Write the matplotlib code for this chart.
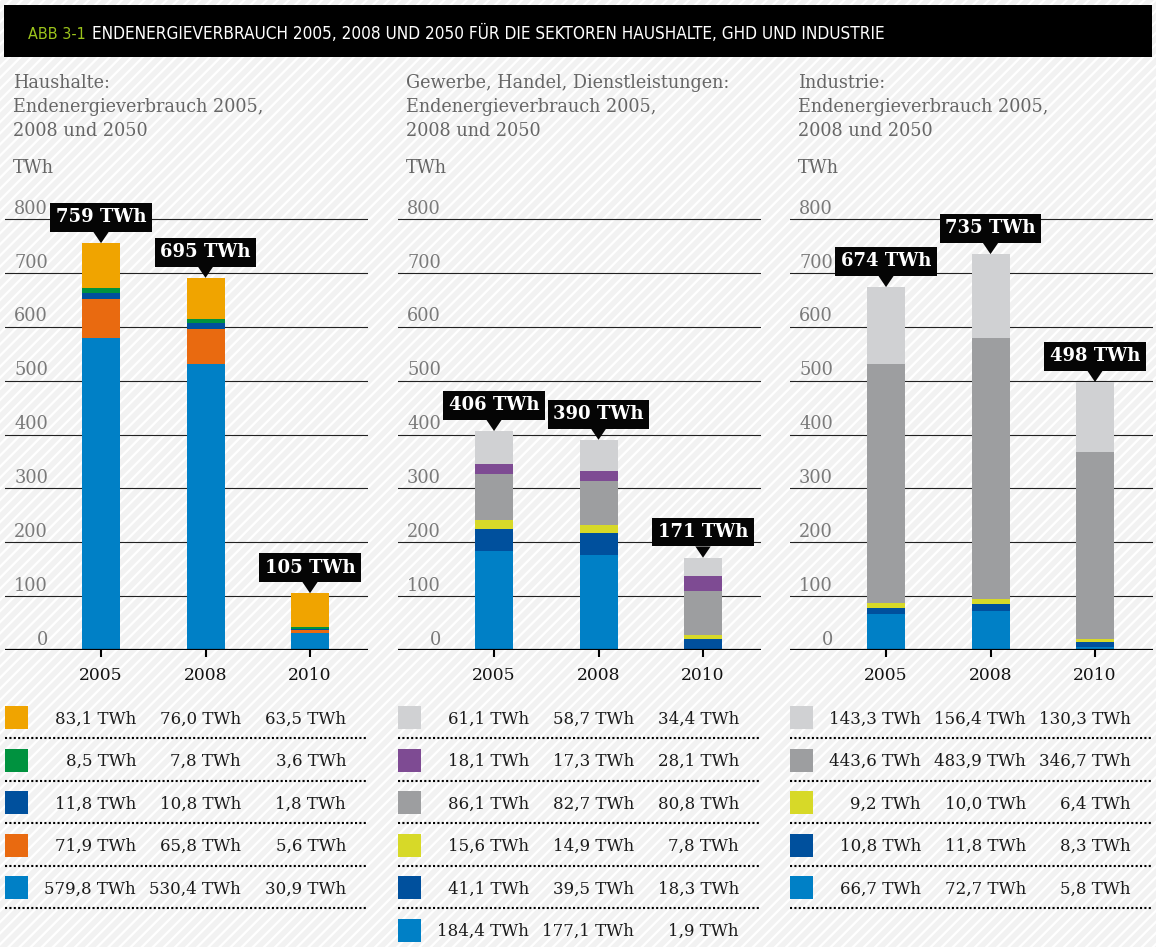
import matplotlib
matplotlib.use("Agg")
import matplotlib.pyplot as plt
from matplotlib.patches import Rectangle
from matplotlib.lines import Line2D

# ---------------- data ----------------
years = ["2005", "2008", "2010"]

# Haushalte (bottom -> top)
hh_lightblue = [579.8, 530.4, 30.9]
hh_orange = [71.9, 65.8, 5.6]
hh_darkblue = [11.8, 10.8, 1.8]
hh_green = [8.5, 7.8, 3.6]
hh_amber = [83.1, 76.0, 63.5]
hh_totals = [759, 695, 105]

# Gewerbe, Handel, Dienstleistungen (bottom -> top)
ghd_lightblue = [184.4, 177.1, 1.9]
ghd_darkblue = [41.1, 39.5, 18.3]
ghd_yellow = [15.6, 14.9, 7.8]
ghd_gray = [86.1, 82.7, 80.8]
ghd_purple = [18.1, 17.3, 28.1]
ghd_lightgray = [61.1, 58.7, 34.4]
ghd_totals = [406, 390, 171]

# Industrie (bottom -> top)
ind_lightblue = [66.7, 72.7, 5.8]
ind_darkblue = [10.8, 11.8, 8.3]
ind_yellow = [9.2, 10.0, 6.4]
ind_gray = [443.6, 483.9, 346.7]
ind_lightgray = [143.3, 156.4, 130.3]
ind_totals = [674, 735, 498]

yticks = [0, 100, 200, 300, 400, 500, 600, 700, 800]

titles = [
    ["Haushalte:", "Endenergieverbrauch 2005,", "2008 und 2050"],
    ["Gewerbe, Handel, Dienstleistungen:", "Endenergieverbrauch 2005,", "2008 und 2050"],
    ["Industrie:", "Endenergieverbrauch 2005,", "2008 und 2050"],
]

C_LBLUE = "#0080c6"
C_DBLUE = "#00509d"
C_ORANGE = "#e96a10"
C_GREEN = "#00923f"
C_AMBER = "#f0a400"
C_YELLOW = "#d7d928"
C_GRAY = "#9d9ea0"
C_PURPLE = "#7e4b93"
C_LGRAY = "#d0d1d3"

panels = [
    dict(series=[hh_lightblue, hh_orange, hh_darkblue, hh_green, hh_amber],
         colors=[C_LBLUE, C_ORANGE, C_DBLUE, C_GREEN, C_AMBER], totals=hh_totals),
    dict(series=[ghd_lightblue, ghd_darkblue, ghd_yellow, ghd_gray, ghd_purple, ghd_lightgray],
         colors=[C_LBLUE, C_DBLUE, C_YELLOW, C_GRAY, C_PURPLE, C_LGRAY], totals=ghd_totals),
    dict(series=[ind_lightblue, ind_darkblue, ind_yellow, ind_gray, ind_lightgray],
         colors=[C_LBLUE, C_DBLUE, C_YELLOW, C_GRAY, C_LGRAY], totals=ind_totals),
]

# ---------------- layout ----------------
W, H = 1156, 947
plt.rcParams["hatch.linewidth"] = 1.6
plt.rcParams["hatch.color"] = "white"
SERIF = ["DejaVu Serif"]

fig = plt.figure(figsize=(W / 100, H / 100), dpi=100)
fig.patch.set_facecolor("#f2f2f2")
fig.patch.set_edgecolor("white")
fig.patch.set_linewidth(0)
fig.patch.set_hatch("///")

# overlay in pixel coordinates for layout elements
ov = fig.add_axes([0, 0, 1, 1], zorder=5)
ov.set_xlim(0, W)
ov.set_ylim(H, 0)
ov.axis("off")
ov.patch.set_alpha(0)

# header band
ov.add_patch(Rectangle((4, 5), 1148, 52, facecolor="black", edgecolor="none"))
hdr_font = dict(family=["Liberation Sans Narrow", "DejaVu Sans"], fontstretch="condensed")
t_abb = ov.text(28, 39, "ABB 3-1", color="#9cc41c", fontsize=14, va="baseline", ha="left", **hdr_font)
t_title = ov.text(92, 39, "ENDENERGIEVERBRAUCH 2005, 2008 UND 2050 FÜR DIE SEKTOREN HAUSHALTE, GHD UND INDUSTRIE",
                  color="white", fontsize=14, va="baseline", ha="left", **hdr_font)

PX_PER_100 = (650 - 219) / 8.0
YMAX = 850
lefts = [5, 398, 790]
AW = 363
xmin, xmax = -0.919, 2.555

for idx, (p, L) in enumerate(zip(panels, lefts)):
    ah = YMAX / 100 * PX_PER_100
    ax = fig.add_axes([L / W, (H - 650) / H, AW / W, ah / H], zorder=3)
    ax.patch.set_alpha(0)
    ax.set_xlim(xmin, xmax)
    ax.set_ylim(0, YMAX)
    for s in ax.spines.values():
        s.set_visible(False)
    ax.set_yticks([])
    ax.set_xticks(range(len(years)))
    ax.set_xticklabels(years, fontsize=12.3, family=SERIF, color="#111111")
    ax.tick_params(axis="x", length=5, width=1.5, color="black", pad=7.5)

    for v in yticks[1:]:
        ax.axhline(v, color="#222222", lw=0.8, zorder=1)
    ax.axhline(0, color="black", lw=1.6, zorder=4)
    for v in yticks:
        ax.annotate(str(v), xy=(43 / AW, v), xycoords=("axes fraction", "data"),
                    xytext=(0, 3.8), textcoords="offset points", ha="right", va="baseline",
                    fontsize=12.8, family=SERIF, color="#7a7a7a")

    bottom = [0.0] * len(years)
    for vals, col in zip(p["series"], p["colors"]):
        ax.bar(range(len(years)), vals, width=0.364, bottom=bottom, color=col, zorder=2, linewidth=0)
        bottom = [b + v for b, v in zip(bottom, vals)]

    for i, (top, tot) in enumerate(zip(bottom, p["totals"])):
        ax.annotate(f"{tot} TWh", xy=(i, top), xytext=(0, 18.5), textcoords="offset points",
                    ha="center", va="center", fontsize=13, fontweight="bold", family=SERIF,
                    color="white", annotation_clip=False, zorder=6,
                    bbox=dict(boxstyle="square,pad=0.3", fc="#050505", ec="none"),
                    arrowprops=dict(arrowstyle="wedge,tail_width=0.85,shrink_factor=0.5",
                                    fc="#050505", ec="none", shrinkA=0, shrinkB=0))

    # panel headings
    for k, line in enumerate(titles[idx]):
        ov.text(L + 8, 88 + 24 * k, line, fontsize=12.7, family=SERIF, color="#666666",
                va="baseline", ha="left")
    ov.text(L + 8, 173, "TWh", fontsize=12.7, family=SERIF, color="#666666", va="baseline", ha="left")

    # legend table (top row = top segment)
    rows = list(zip(p["series"], p["colors"]))[::-1]
    for r, (vals, col) in enumerate(rows):
        top = 706 + 42.5 * r
        ov.add_patch(Rectangle((L, top), 23, 23, facecolor=col, edgecolor="none"))
        for c, v in enumerate(vals):
            ov.text(L + 131 + 105 * c, top + 17.5, f"{v:.1f}".replace(".", ",") + " TWh",
                    fontsize=12, family=SERIF, color="#1a1a1a", ha="right", va="baseline")
        if r < 5:
            ov.add_line(Line2D([L, L + AW], [top + 32, top + 32], color="black", lw=1.5,
                               linestyle=(0, (1, 1.1)), solid_capstyle="butt", dash_capstyle="butt"))

# fit header texts to reference widths
fig.canvas.draw()
rend = fig.canvas.get_renderer()
for t, target in [(t_abb, 58), (t_title, 800)]:
    w = t.get_window_extent(rend).width
    t.set_fontsize(t.get_fontsize() * target / w)

fig.savefig("out.png", dpi=100, facecolor=fig.get_facecolor())
